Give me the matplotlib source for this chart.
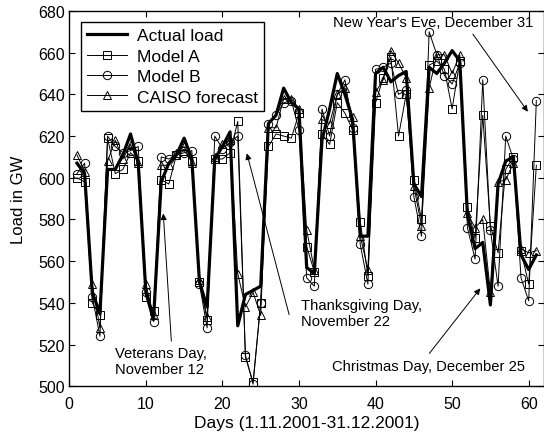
import matplotlib
matplotlib.use("Agg")
import matplotlib.pyplot as plt
import numpy as np

plt.rcParams["font.family"] = ["Liberation Sans", "DejaVu Sans"]

days = np.arange(1, 62)

actual = [607, 602, 545, 535, 604, 604, 611, 621, 607, 545,
          532, 598, 607, 611, 619, 609, 550, 538, 609, 615,
          622, 529, 544, 546, 548, 626, 630, 643, 636, 633,
          557, 554, 618, 633, 650, 640, 628, 572, 572, 650,
          653, 646, 649, 651, 597, 591, 653, 650, 655, 661,
          656, 582, 566, 569, 539, 597, 608, 610, 563, 556,
          563]

model_a = [600, 598, 540, 534, 619, 602, 604, 612, 608, 543,
           536, 599, 597, 611, 613, 608, 550, 532, 609, 609,
           612, 627, 514, 502, 540, 615, 621, 620, 619, 631,
           567, 555, 621, 616, 636, 631, 623, 579, 553, 636,
           648, 658, 620, 640, 599, 580, 654, 656, 652, 633,
           656, 586, 571, 630, 577, 564, 604, 610, 565, 549,
           606]

model_b = [602, 607, 543, 524, 620, 615, 612, 613, 615, 545,
           531, 610, 609, 611, 612, 613, 549, 528, 620, 614,
           617, 620, 515, 501, 540, 626, 630, 636, 637, 623,
           552, 548, 633, 620, 640, 647, 624, 568, 549, 652,
           653, 655, 640, 642, 591, 572, 670, 659, 649, 645,
           655, 576, 561, 647, 575, 548, 620, 609, 552, 541,
           637]

caiso = [611, 603, 549, 528, 608, 618, 609, 616, 607, 549,
         534, 606, 606, 612, 615, 607, 551, 533, 610, 616,
         618, 554, 538, 545, 534, 624, 624, 638, 638, 633,
         575, 556, 628, 626, 640, 643, 629, 572, 556, 641,
         647, 661, 655, 648, 596, 577, 643, 659, 659, 650,
         659, 583, 576, 580, 545, 598, 599, 607, 566, 564,
         565]

fig = plt.figure(figsize=(5.44, 4.35), dpi=100)
ax = fig.add_axes([0.1274, 0.1097, 0.8726, 0.8628])

ax.plot(days, actual, color="black", lw=2.3, label="Actual load")
ax.plot(days, model_a, color="black", lw=0.7, marker="s", ms=5.5,
        mfc="none", mew=0.7, label="Model A")
ax.plot(days, model_b, color="black", lw=0.7, marker="o", ms=6,
        mfc="none", mew=0.7, label="Model B")
ax.plot(days, caiso, color="black", lw=0.7, marker="^", ms=6,
        mfc="none", mew=0.7, label="CAISO forecast")

ax.set_xlim(0, 62)
ax.set_ylim(500, 680)
ax.set_xticks(range(0, 61, 10))
ax.set_yticks(range(500, 681, 20))
ax.tick_params(direction="in", top=True, right=True, labelsize=11.5,
               length=4, width=0.8, pad=3)
ax.tick_params(axis="x", pad=7)
for sp in ax.spines.values():
    sp.set_linewidth(1.0)

ax.set_xlabel("Days (1.11.2001-31.12.2001)", fontsize=12.5, labelpad=3)
ax.set_ylabel("Load in GW", fontsize=12, labelpad=9)

leg = ax.legend(loc="upper left", bbox_to_anchor=(0.024, 0.97),
                borderaxespad=0, fontsize=12.5, fancybox=False,
                framealpha=1, edgecolor="black", handlelength=2.3,
                borderpad=0.35, labelspacing=0.3, handletextpad=0.6)
leg.get_frame().set_linewidth(1.0)

arrow = dict(arrowstyle="-|>", color="black", lw=0.7, mutation_scale=9)

ax.text(34.4, 674.7, "New Year's Eve, December 31", fontsize=10.6,
        ha="left", va="center")
ax.annotate("", xy=(60.1, 630.6), xytext=(52.5, 670), arrowprops=arrow)

ax.text(30.3, 542.3, "Thanksgiving Day,\nNovember 22", fontsize=10.6,
        ha="left", va="top")
ax.annotate("", xy=(23.1, 613), xytext=(28.8, 533.1), arrowprops=arrow)

ax.text(6.0, 519.3, "Veterans Day,\nNovember 12", fontsize=10.6,
        ha="left", va="top")
ax.annotate("", xy=(12.25, 584.2), xytext=(13.35, 520.3), arrowprops=arrow)

ax.text(34.25, 509.9, "Christmas Day, December 25", fontsize=10.6,
        ha="left", va="center")
ax.annotate("", xy=(53.9, 548), xytext=(46.8, 514.7), arrowprops=arrow)

fig.savefig("out.png", dpi=100)
